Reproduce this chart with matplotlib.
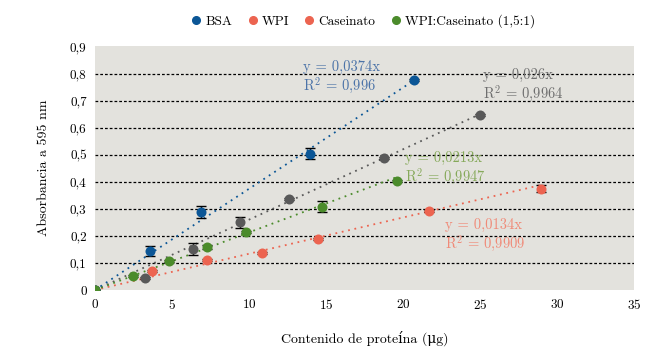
import matplotlib
matplotlib.use("Agg")
import matplotlib.pyplot as plt
from matplotlib.lines import Line2D
from matplotlib.ticker import FuncFormatter

plt.rcParams["font.family"] = ["cmr10", "DejaVu Serif"]
plt.rcParams["axes.formatter.use_mathtext"] = True
plt.rcParams["mathtext.fontset"] = "cm"

# data (µg protein, absorbance at 595 nm)
bsa_x = [0, 3.54, 6.90, 13.93, 20.7]
bsa_y = [0, 0.144, 0.289, 0.504, 0.777]
bsa_err = [0, 0.019, 0.022, 0.02, 0.004]

wpi_x = [0, 3.23, 6.38, 9.42, 12.57, 18.78, 25.0]
wpi_y = [0, 0.045, 0.151, 0.250, 0.337, 0.488, 0.646]
wpi_err = [0, 0.004, 0.021, 0.02, 0.004, 0.004, 0.004]

cas_x = [0, 3.69, 7.24, 10.85, 14.51, 21.69, 28.96]
cas_y = [0, 0.071, 0.110, 0.138, 0.188, 0.293, 0.375]
cas_err = [0, 0.004, 0.004, 0.004, 0.004, 0.004, 0.014]

mix_x = [0, 2.44, 4.83, 7.29, 9.83, 14.77, 19.58]
mix_y = [0, 0.051, 0.108, 0.160, 0.213, 0.308, 0.403]
mix_err = [0, 0.004, 0.004, 0.008, 0.004, 0.02, 0.004]

slopes = {"bsa": 0.0374, "wpi": 0.026, "cas": 0.0134, "mix": 0.0213}
eqs = {
    "bsa": ("y = 0,0374x", "R$^2$ = 0,996"),
    "wpi": ("y = 0,026x", "R$^2$ = 0,9964"),
    "cas": ("y = 0,0134x", "R$^2$ = 0,9909"),
    "mix": ("y = 0,0213x", "R$^2$ = 0,9947"),
}

BLUE = "#0b5696"
GRAY = "#595959"
RED = "#ec6450"
GREEN = "#4b8b2b"

fig = plt.figure(figsize=(6.71, 3.54), dpi=100)
ax = fig.add_axes([0.1416, 0.1808, 0.8033, 0.6879])
ax.set_facecolor("#e3e2dd")
for s in ax.spines.values():
    s.set_visible(False)

ax.set_xlim(0, 35)
ax.set_ylim(0, 0.9)
yticks = [0, 0.1, 0.2, 0.3, 0.4, 0.5, 0.6, 0.7, 0.8, 0.9]
ax.set_yticks(yticks)
ax.set_xticks(range(0, 36, 5))
ax.yaxis.set_major_formatter(FuncFormatter(
    lambda v, p: "0" if v == 0 else f"{v:.1f}".replace(".", ",")))
ax.tick_params(length=0, labelsize=9.5, pad=6)
for t in yticks[1:-1]:
    ax.axhline(t, color="black", lw=0.9, ls=(0, (2.2, 1.6)), zorder=1)

series = [
    ("cas", cas_x, cas_y, cas_err, RED, "#f08a78"),
    ("wpi", wpi_x, wpi_y, wpi_err, GRAY, "#6f6f6f"),
    ("bsa", bsa_x, bsa_y, bsa_err, BLUE, "#4d74a8"),
    ("mix", mix_x, mix_y, mix_err, GREEN, "#86a95a"),
]
for key, xs, ys, errs, col, tcol in series:
    xe = max(xs)
    ax.plot([0, xe], [0, slopes[key] * xe], color=col, lw=1.3,
            ls=(0, (1, 2.6)), zorder=2)
    ax.errorbar(xs, ys, yerr=errs, fmt="none", ecolor="black", elinewidth=1,
                capsize=3.5, capthick=1, zorder=3)
    ax.scatter(xs, ys, s=52, color=col, zorder=4, linewidths=0)

# trendline equations
labels_pos = {"bsa": (13.5, 0.825), "wpi": (25.2, 0.795),
              "mix": (20.1, 0.488), "cas": (22.7, 0.242)}
for key, xs, ys, errs, col, tcol in series:
    x0, y0 = labels_pos[key]
    ax.text(x0, y0, eqs[key][0], color=tcol, fontsize=10.5, va="center", zorder=5)
    ax.text(x0, y0 - 0.068, eqs[key][1], color=tcol, fontsize=10.5,
            va="center", zorder=5)

ax.set_xlabel("Contenido de proteína (\u03bcg)", fontsize=10, labelpad=13)
ax.set_ylabel("Absorbancia a 595 nm", fontsize=10, labelpad=14)

handles = [
    Line2D([], [], ls="none", marker="o", ms=5.5, color=BLUE, label="BSA"),
    Line2D([], [], ls="none", marker="o", ms=5.5, color=RED, label="WPI"),
    Line2D([], [], ls="none", marker="o", ms=5.5, color=RED, label="Caseinato"),
    Line2D([], [], ls="none", marker="o", ms=5.5, color=GREEN,
           label="WPI:Caseinato (1,5:1)"),
]
fig.legend(handles=handles, loc="center", bbox_to_anchor=(0.54, 0.94),
           ncol=4, frameon=False, fontsize=9.6, handletextpad=0.2,
           columnspacing=1.0, handlelength=1.0)

fig.savefig("out.png", dpi=100)
